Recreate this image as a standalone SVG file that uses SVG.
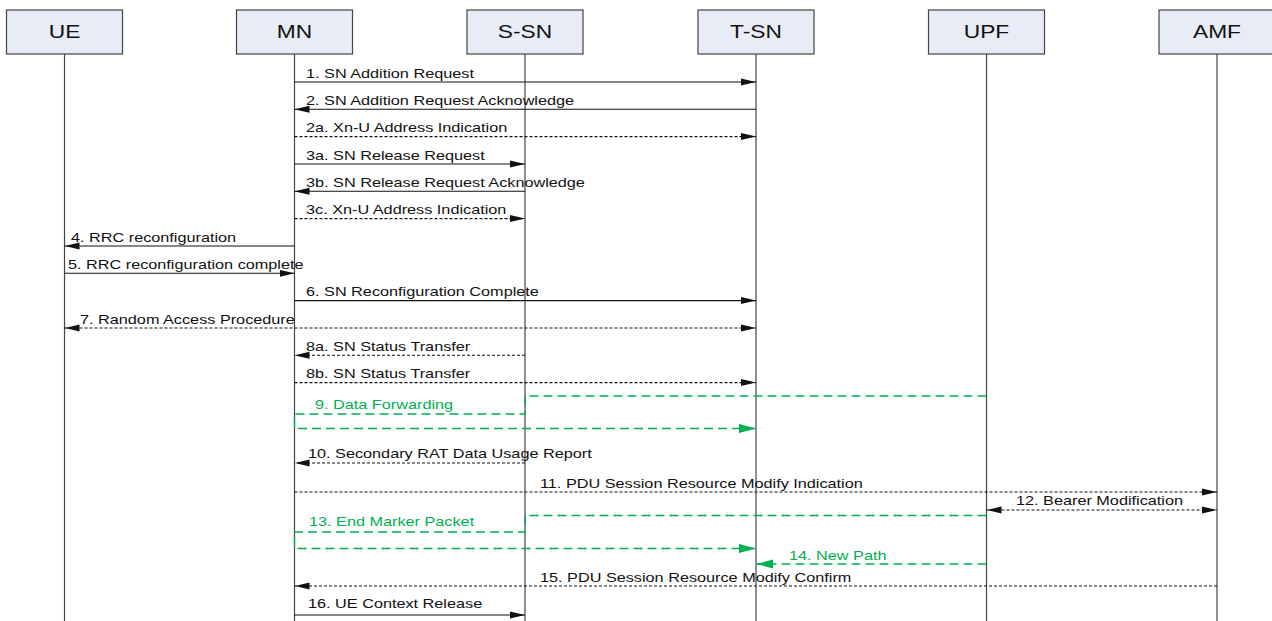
<svg xmlns="http://www.w3.org/2000/svg" width="1272" height="621" viewBox="0 0 1272 621">
<style>
.box{fill:#E7ECF7;stroke:#444;stroke-width:1.2}
.hdr{font-family:"Liberation Sans",Arial,sans-serif;font-size:18.5px;fill:#111;text-anchor:middle}
.life{stroke:#444;stroke-width:1.2;fill:none}
.lbl{font-family:"Liberation Sans",Arial,sans-serif;font-size:13px;fill:#111}
.glbl{font-family:"Liberation Sans",Arial,sans-serif;font-size:13px;fill:#00B050}
.m{stroke:#111;stroke-width:1.1;fill:none}
.d{stroke:#111;stroke-width:1.1;fill:none;stroke-dasharray:3,2}
.g{stroke:#00B050;stroke-width:1.4;fill:none;stroke-dasharray:9,5}
</style>
<defs>
<marker id="a" markerUnits="userSpaceOnUse" markerWidth="15" markerHeight="8" refX="15" refY="4" orient="auto-start-reverse"><path d="M0,0.5 L15,4 L0,7.5 z" fill="#111"/></marker>
<marker id="ga" markerUnits="userSpaceOnUse" markerWidth="17" markerHeight="10" refX="17" refY="5" orient="auto-start-reverse"><path d="M0,0.5 L17,5 L0,9.5 z" fill="#00B050"/></marker>
</defs>
<rect width="1272" height="621" fill="#fff"/>
<g id="UE"><rect class="box" x="6.5" y="10" width="116" height="44"/><text class="hdr" transform="translate(64.5,38.3) scale(1.23,1)">UE</text><line class="life" x1="64.5" y1="54" x2="64.5" y2="621"/></g>
<g id="MN"><rect class="box" x="236.5" y="10" width="116" height="44"/><text class="hdr" transform="translate(294.5,38.3) scale(1.23,1)">MN</text><line class="life" x1="294.5" y1="54" x2="294.5" y2="621"/></g>
<g id="S-SN"><rect class="box" x="467" y="10" width="116" height="44"/><text class="hdr" transform="translate(525,38.3) scale(1.23,1)">S-SN</text><line class="life" x1="525" y1="54" x2="525" y2="621"/></g>
<g id="T-SN"><rect class="box" x="698" y="10" width="116" height="44"/><text class="hdr" transform="translate(756,38.3) scale(1.23,1)">T-SN</text><line class="life" x1="756" y1="54" x2="756" y2="621"/></g>
<g id="UPF"><rect class="box" x="928.5" y="10" width="116" height="44"/><text class="hdr" transform="translate(986.5,38.3) scale(1.23,1)">UPF</text><line class="life" x1="986.5" y1="54" x2="986.5" y2="621"/></g>
<g id="AMF"><rect class="box" x="1159" y="10" width="116" height="44"/><text class="hdr" transform="translate(1217,38.3) scale(1.23,1)">AMF</text><line class="life" x1="1217" y1="54" x2="1217" y2="621"/></g>
<g id="connectors">
<line class="m" x1="294.5" y1="82" x2="756" y2="82" marker-end="url(#a)"/>
<line class="m" x1="756" y1="109.3" x2="294.5" y2="109.3" marker-end="url(#a)"/>
<line class="d" x1="294.5" y1="136.6" x2="756" y2="136.6" marker-end="url(#a)"/>
<line class="m" x1="294.5" y1="164" x2="525" y2="164" marker-end="url(#a)"/>
<line class="m" x1="525" y1="191.3" x2="294.5" y2="191.3" marker-end="url(#a)"/>
<line class="d" x1="294.5" y1="218.6" x2="525" y2="218.6" marker-end="url(#a)"/>
<line class="m" x1="294.5" y1="246" x2="64.5" y2="246" marker-end="url(#a)"/>
<line class="m" x1="64.5" y1="273.3" x2="294.5" y2="273.3" marker-end="url(#a)"/>
<line class="m" x1="294.5" y1="300.6" x2="756" y2="300.6" marker-end="url(#a)"/>
<line class="d" x1="64.5" y1="328" x2="756" y2="328" marker-start="url(#a)" marker-end="url(#a)"/>
<line class="d" x1="525" y1="355.3" x2="294.5" y2="355.3" marker-end="url(#a)"/>
<line class="d" x1="294.5" y1="382.6" x2="756" y2="382.6" marker-end="url(#a)"/>
<path class="g" d="M986.5,396 H525 V414 H294.5 V428.5 H756" marker-end="url(#ga)"/>
<line class="d" x1="525" y1="463" x2="294.5" y2="463" marker-end="url(#a)"/>
<line class="d" x1="294.5" y1="492" x2="1217" y2="492" marker-end="url(#a)"/>
<line class="d" x1="986.5" y1="510" x2="1217" y2="510" marker-start="url(#a)" marker-end="url(#a)"/>
<path class="g" d="M986.5,515.5 H525 V532 H294.5 V548.5 H756" marker-end="url(#ga)"/>
<line class="g" x1="986.5" y1="564" x2="756" y2="564" marker-end="url(#ga)"/>
<line class="d" x1="1217" y1="586" x2="294.5" y2="586" marker-end="url(#a)"/>
<line class="m" x1="294.5" y1="615" x2="525" y2="615" marker-end="url(#a)"/>
</g>
<g id="labels">
<text class="lbl" transform="translate(306,77.5) scale(1.25,1)">1. SN Addition Request</text>
<text class="lbl" transform="translate(306,104.8) scale(1.25,1)">2. SN Addition Request Acknowledge</text>
<text class="lbl" transform="translate(306,132) scale(1.25,1)">2a. Xn-U Address Indication</text>
<text class="lbl" transform="translate(306,159.5) scale(1.25,1)">3a. SN Release Request</text>
<text class="lbl" transform="translate(306,186.8) scale(1.25,1)">3b. SN Release Request Acknowledge</text>
<text class="lbl" transform="translate(306,214) scale(1.25,1)">3c. Xn-U Address Indication</text>
<text class="lbl" transform="translate(71,241.5) scale(1.25,1)">4. RRC reconfiguration</text>
<text class="lbl" transform="translate(68,268.8) scale(1.25,1)">5. RRC reconfiguration complete</text>
<text class="lbl" transform="translate(306,296) scale(1.25,1)">6. SN Reconfiguration Complete</text>
<text class="lbl" transform="translate(80,323.5) scale(1.25,1)">7. Random Access Procedure</text>
<text class="lbl" transform="translate(306,350.8) scale(1.25,1)">8a. SN Status Transfer</text>
<text class="lbl" transform="translate(306,378) scale(1.25,1)">8b. SN Status Transfer</text>
<text class="glbl" transform="translate(315,409) scale(1.25,1)">9. Data Forwarding</text>
<text class="lbl" transform="translate(308,457.5) scale(1.25,1)">10. Secondary RAT Data Usage Report</text>
<text class="lbl" transform="translate(540,487.5) scale(1.25,1)">11. PDU Session Resource Modify Indication</text>
<text class="lbl" transform="translate(1016,505) scale(1.25,1)">12. Bearer Modification</text>
<text class="glbl" transform="translate(309,526) scale(1.25,1)">13. End Marker Packet</text>
<text class="glbl" transform="translate(789,560) scale(1.25,1)">14. New Path</text>
<text class="lbl" transform="translate(540,581.5) scale(1.25,1)">15. PDU Session Resource Modify Confirm</text>
<text class="lbl" transform="translate(308,608) scale(1.25,1)">16. UE Context Release</text>
</g>
</svg>
